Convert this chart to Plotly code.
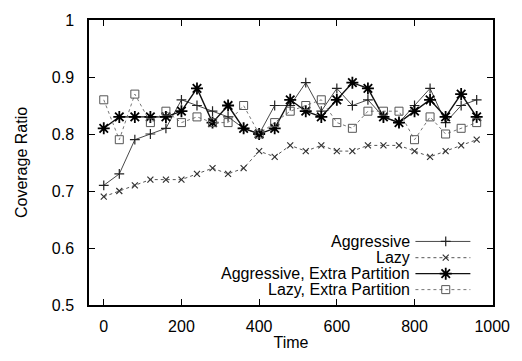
import plotly.graph_objects as go

time = [0, 40, 80, 120, 160, 200, 240, 280, 320, 360, 400, 440, 480,
        520, 560, 600, 640, 680, 720, 760, 800, 840, 880, 920, 960]

aggressive = [0.71, 0.73, 0.79, 0.80, 0.81, 0.86, 0.85, 0.84, 0.83, 0.81, 0.80, 0.85, 0.85,
              0.89, 0.84, 0.88, 0.85, 0.86, 0.83, 0.82, 0.85, 0.88, 0.82, 0.85, 0.86]
lazy = [0.69, 0.70, 0.71, 0.72, 0.72, 0.72, 0.73, 0.74, 0.73, 0.74, 0.77, 0.76, 0.78,
        0.77, 0.78, 0.77, 0.77, 0.78, 0.78, 0.78, 0.77, 0.76, 0.77, 0.78, 0.79]
aggressive_ep = [0.81, 0.83, 0.83, 0.83, 0.83, 0.84, 0.88, 0.82, 0.85, 0.81, 0.80, 0.81, 0.86,
                 0.84, 0.83, 0.86, 0.89, 0.88, 0.83, 0.82, 0.84, 0.86, 0.83, 0.87, 0.83]
lazy_ep = [0.86, 0.79, 0.87, 0.82, 0.84, 0.82, 0.83, 0.82, 0.82, 0.85, 0.80, 0.82, 0.84,
           0.85, 0.86, 0.82, 0.81, 0.84, 0.84, 0.84, 0.79, 0.83, 0.80, 0.81, 0.82]

series_names = ["Aggressive", "Lazy", "Aggressive, Extra Partition", "Lazy, Extra Partition"]
x_ticks = [0, 200, 400, 600, 800, 1000]
y_ticks = [0.5, 0.6, 0.7, 0.8, 0.9, 1.0]
y_tick_labels = ["0.5", "0.6", "0.7", "0.8", "0.9", "1"]

styles = [
    dict(line=dict(color="#333333", width=0.9),
         marker=dict(symbol="cross-thin-open", size=7, color="#222222", line=dict(color="#222222", width=1.2))),
    dict(line=dict(color="#555555", width=1.0, dash="dot"),
         marker=dict(symbol="x-thin-open", size=6, color="#333333", line=dict(color="#333333", width=1.2))),
    dict(line=dict(color="#111111", width=1.4),
         marker=dict(symbol="asterisk-open", size=10, color="#000000", line=dict(color="#000000", width=1.8))),
    dict(line=dict(color="#777777", width=1.0, dash="dot"),
         marker=dict(symbol="square-open", size=8, color="#555555", line=dict(color="#555555", width=1.0))),
]
data = [aggressive, lazy, aggressive_ep, lazy_ep]

fig = go.Figure()
for name, vals, st in zip(series_names, data, styles):
    fig.add_trace(go.Scatter(x=time, y=vals, mode="lines+markers", name=name,
                             line=st["line"], marker=st["marker"], showlegend=False))

# custom legend (text right-aligned, key on the right) drawn on an overlay axis
leg_y = [0.223, 0.166, 0.110, 0.054]
key_x = [0.808, 0.944]
key_mark = 0.883
for name, yy, st in zip(series_names, leg_y, styles):
    fig.add_trace(go.Scatter(x=key_x, y=[yy, yy], mode="lines", line=st["line"],
                             xaxis="x2", yaxis="y2", showlegend=False, hoverinfo="skip"))
    fig.add_trace(go.Scatter(x=[key_mark], y=[yy], mode="markers", marker=st["marker"],
                             xaxis="x2", yaxis="y2", showlegend=False, hoverinfo="skip"))
    fig.add_annotation(text=name, xref="paper", yref="paper", x=0.799, y=yy,
                       xanchor="right", yanchor="middle", showarrow=False,
                       font=dict(size=16, color="black"))

font = dict(family="Liberation Sans, Arial, sans-serif", size=16, color="black")
title_font = dict(family="Liberation Sans, Arial, sans-serif", size=16, color="black")
fig.update_layout(
    width=522, height=361,
    margin=dict(l=89, r=21, t=13, b=52),
    paper_bgcolor="white", plot_bgcolor="white",
    font=font,
    xaxis=dict(range=[-38, 1002], tickvals=x_ticks, ticks="inside", ticklen=6,
               tickwidth=1.3, tickcolor="black", showline=True, linecolor="black",
               linewidth=1.5, mirror="ticks", showgrid=False, zeroline=False,
               tickfont=dict(size=16),
               title=dict(text="Time", standoff=3, font=title_font), ticklabelstandoff=6),
    yaxis=dict(range=[0.5, 1.0], tickvals=y_ticks, ticktext=y_tick_labels, ticks="inside",
               ticklen=6, tickwidth=1.3, tickcolor="black", showline=True, linecolor="black",
               linewidth=1.5, mirror="ticks", showgrid=False, zeroline=False,
               tickfont=dict(size=16),
               title=dict(text="Coverage Ratio", standoff=20, font=title_font), ticklabelstandoff=10),
    xaxis2=dict(overlaying="x", range=[0, 1], visible=False, fixedrange=True),
    yaxis2=dict(overlaying="y", range=[0, 1], visible=False, fixedrange=True),
)

fig.write_html("out.html")
